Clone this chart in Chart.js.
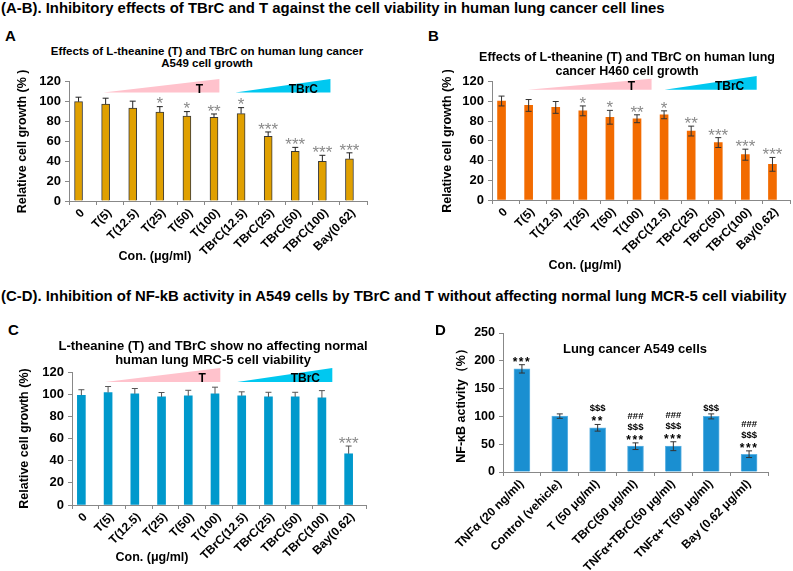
<!DOCTYPE html>
<html><head><meta charset="utf-8">
<script src="https://cdn.jsdelivr.net/npm/chart.js@4.4.0/dist/chart.umd.min.js"></script>
<style>
body{margin:0;background:#fff;width:793px;height:571px;position:relative;overflow:hidden;font-family:"Liberation Sans",Arial,sans-serif;}
.t{position:absolute;font-weight:bold;color:#000;white-space:nowrap;line-height:1;}
.c{text-align:center;transform:translateX(-50%);}
.w{position:absolute;}
</style></head><body>
<div class="w" style="left:0;top:70px"><canvas id="ca" width="395" height="210"></canvas></div>
<div class="w" style="left:400px;top:70px"><canvas id="cb" width="393" height="210"></canvas></div>
<div class="w" style="left:0;top:340px"><canvas id="cc" width="395" height="231"></canvas></div>
<div class="w" style="left:400px;top:320px"><canvas id="cd" width="393" height="251"></canvas></div>

<div class="t" style="left:1px;top:1px;font-size:14.9px">(A-B). Inhibitory effects of TBrC and T against the cell viability in human lung cancer cell lines</div>
<div class="t" style="left:1px;top:289px;font-size:14.9px">(C-D). Inhibition of NF-kB activity in A549 cells by TBrC and T without affecting normal lung MCR-5 cell viability</div>
<div class="t" style="left:5px;top:28px;font-size:15px">A</div>
<div class="t" style="left:428px;top:28px;font-size:15px">B</div>
<div class="t" style="left:8px;top:322px;font-size:15px">C</div>
<div class="t" style="left:435px;top:322px;font-size:15px">D</div>

<div class="t c" style="left:207px;top:45px;font-size:11.5px;line-height:12px">Effects of L-theanine (T) and TBrC on human lung cancer<br>A549 cell growth</div>
<div class="t c" style="left:627px;top:50px;font-size:12.5px;line-height:14px">Effects of L-theanine (T) and TBrC on human lung<br>cancer H460 cell growth</div>
<div class="t c" style="left:213px;top:339px;font-size:13px;line-height:14px">L-theanine (T) and TBrC show no affecting normal<br>human lung MRC-5 cell viability</div>
<div class="t c" style="left:635px;top:342px;font-size:13px">Lung cancer A549 cells</div>

<div class="t c" style="left:155px;top:250px;font-size:12.5px">Con. (μg/ml)</div>
<div class="t c" style="left:585px;top:259px;font-size:12.5px">Con. (μg/ml)</div>
<div class="t c" style="left:152px;top:551px;font-size:12.5px">Con. (μg/ml)</div>

<script>
// ---------- data ----------
const categories = ['0','T(5)','T(12.5)','T(25)','T(50)','T(100)','TBrC(12.5)','TBrC(25)','TBrC(50)','TBrC(100)','Bay(0.62)'];
const a549Values = [100, 97.5, 93.5, 89.5, 85.5, 84.3, 88, 65, 50, 40, 42.5];
const a549Errors = [4.5, 6, 7, 5.5, 4.5, 3.3, 6, 4.5, 4, 6, 6];
const a549Sig    = ['', '', '', '*', '*', '**', '*', '***', '***', '***', '***'];
const h460Values = [100.5, 96, 94, 90.5, 84, 82.5, 86.5, 70, 58.3, 46, 36.2];
const h460Errors = [5, 6, 6, 5, 7, 4, 4, 5, 5, 5.6, 7];
const h460Sig    = ['', '', '', '*', '*', '**', '*', '**', '***', '***', '***'];
const mrc5Values = [99, 101.5, 100.3, 97.5, 98.5, 100.3, 98.5, 97.5, 97.5, 96.6, 46.2];
const mrc5Errors = [5, 5.4, 4.8, 4, 5, 6, 3.6, 4.2, 4.2, 6.6, 7];
const mrc5Sig    = ['', '', '', '', '', '', '', '', '', '', '***'];
const nfkbCategories = ['TNFα (20 ng/ml)','Control (vehicle)','T (50 μg/ml)','TBrC(50 μg/ml)','TNFα+TBrC(50 μg/ml)','TNFα+ T(50 μg/ml)','Bay (0.62 μg/ml)'];
const nfkbValues = [185.5, 100.5, 79.5, 46.4, 46.4, 100, 32];
const nfkbErrors = [7.5, 4, 6, 6, 8, 4.5, 6];
const nfkbSig    = [['***'], [], ['$$$','**'], ['###','$$$','***'], ['###','$$$','***'], ['$$$'], ['###','$$$','***']];
const viabilityMax = 120, viabilityStep = 20;
const nfkbMax = 250, nfkbStep = 50;

const FONT = '"Liberation Sans", Arial, sans-serif';
Chart.defaults.font.family = FONT;

// ---------- annotation plugin: dose wedges, error bars, significance ----------
const annot = {
  id: 'annot',
  afterDatasetsDraw(chart, args, o) {
    const ctx = chart.ctx, xs = chart.scales.x, ys = chart.scales.y;
    const meta = chart.getDatasetMeta(0);
    ctx.save();
    (o.wedges || []).forEach(w => {
      const x0 = xs.getPixelForValue(w.from), x1 = xs.getPixelForValue(w.to);
      const yb = ys.getPixelForValue(w.base), yt = ys.getPixelForValue(w.top);
      ctx.fillStyle = w.color;
      ctx.beginPath(); ctx.moveTo(x0, yb); ctx.lineTo(x1, yb); ctx.lineTo(x1, yt); ctx.closePath(); ctx.fill();
      ctx.fillStyle = '#000'; ctx.font = 'bold 12px ' + FONT;
      ctx.textAlign = 'center'; ctx.textBaseline = 'middle';
      ctx.fillText(w.label, xs.getPixelForValue(w.labelX), ys.getPixelForValue(w.labelY));
    });
    const vals = chart.data.datasets[0].data;
    meta.data.forEach((bar, i) => {
      const v = vals[i], e = o.errors[i];
      const x = bar.x, yTop = ys.getPixelForValue(v + e), yBot = ys.getPixelForValue(v - e);
      ctx.strokeStyle = o.errColor; ctx.lineWidth = 1;
      ctx.beginPath();
      ctx.moveTo(x, o.both ? yBot : bar.y); ctx.lineTo(x, yTop);
      ctx.moveTo(x - o.cap, yTop); ctx.lineTo(x + o.cap, yTop);
      if (o.both) { ctx.moveTo(x - o.cap, yBot); ctx.lineTo(x + o.cap, yBot); }
      ctx.stroke();
      let s = o.sig[i];
      if (!s || (Array.isArray(s) && !s.length)) return;
      const lines = Array.isArray(s) ? s.slice() : [s];
      ctx.textAlign = 'center'; ctx.textBaseline = 'alphabetic';
      let c = yTop - o.sigGap;
      for (let k = lines.length - 1; k >= 0; k--) {
        const txt = lines[k];
        const star = txt.indexOf('*') >= 0;
        const fs = star ? o.starSize : o.symSize;
        ctx.font = (o.sigBold ? 'bold ' : '') + fs + 'px ' + FONT;
        ctx.fillStyle = o.sigColor;
        ctx.letterSpacing = star ? o.starSpacing : '0px';
        ctx.fillText(txt, x, c + (star ? 0.58 : 0.36) * fs);
        c -= o.lineStep;
      }
      ctx.letterSpacing = '0px';
    });
    ctx.restore();
  }
};

function viabilityChart(id, labels, values, errors, sig, color, border, opts) {
  return new Chart(document.getElementById(id), {
    type: 'bar',
    data: { labels, datasets: [
      { data: values, backgroundColor: color, borderColor: border || color, borderWidth: border ? 1 : 0, barThickness: opts.bar },
      { data: [], barThickness: opts.bar }
    ]},
    options: {
      responsive: false, animation: false,
      layout: { padding: opts.pad },
      plugins: { legend: { display: false }, tooltip: { enabled: false },
        annot: { errors, sig, both: opts.both, cap: opts.cap, errColor: opts.errColor,
          sigColor: '#8a8a8a', sigBold: false, starSize: 17, symSize: 14, starSpacing: '0px', sigGap: 7, lineStep: 11,
          wedges: opts.wedges } },
      scales: {
        x: { grid: { drawOnChartArea: false, tickLength: 4, color: '#888', offset: true }, border: { color: '#888' },
             ticks: { autoSkip: false, minRotation: 45, maxRotation: 45, color: '#000', padding: 1, font: { size: 12, weight: 'bold' } },
             afterFit: s => { s.height = opts.xH; } },
        y: { min: 0, max: viabilityMax,
             grid: { drawOnChartArea: false, tickLength: 4, color: '#888' }, border: { color: '#888' },
             ticks: { stepSize: viabilityStep, color: '#000', padding: 4, font: { size: 13, weight: 'bold' } },
             title: { display: true, text: opts.yTitle, color: '#000', padding: 0, font: { size: 12.5, weight: 'bold' } },
             afterFit: s => { s.width = opts.yW; } }
      }
    },
    plugins: [annot]
  });
}

viabilityChart('ca', categories, a549Values, a549Errors, a549Sig, '#e0a000', '#3a3a3a', {
  bar: 8, pad: { left: 15, top: 8, right: 28, bottom: 0 }, yW: 54, xH: 79, both: false, cap: 3, errColor: '#222',
  yTitle: 'Relative cell growth (% )',
  wedges: [
    { from: 0.77, to: 5.05, base: 109.3, top: 122.9, color: '#ffc2cc', label: 'T', labelX: 4.31, labelY: 112.2 },
    { from: 5.64, to: 9.15, base: 109.3, top: 122.9, color: '#00c8f0', label: 'TBrC', labelX: 8.15, labelY: 112.2 }
  ]
});
viabilityChart('cb', categories, h460Values, h460Errors, h460Sig, '#f26b00', null, {
  bar: 8, pad: { left: 40, top: 11, right: 3, bottom: 0 }, yW: 52, xH: 80, both: true, cap: 3, errColor: '#333',
  yTitle: 'Relative cell growth (% )',
  wedges: [
    { from: 0.82, to: 5.39, base: 112, top: 123, color: '#ffc2cc', label: 'T', labelX: 4.65, labelY: 115 },
    { from: 5.87, to: 9.27, base: 112, top: 126, color: '#00c8f0', label: 'TBrC', labelX: 8.27, labelY: 115 }
  ]
});
viabilityChart('cc', categories, mrc5Values, mrc5Errors, mrc5Sig, '#0099cc', null, {
  bar: 8, pad: { left: 17, top: 32, right: 29, bottom: 0 }, yW: 55, xH: 66, both: false, cap: 3, errColor: '#555',
  yTitle: 'Relative cell growth (%)',
  wedges: [
    { from: 0.74, to: 5.05, base: 111, top: 123.6, color: '#ffc2cc', label: 'T', labelX: 4.37, labelY: 113.7 },
    { from: 5.68, to: 9.24, base: 111, top: 123.6, color: '#00c8f0', label: 'TBrC', labelX: 8.23, labelY: 113.7 }
  ]
});

new Chart(document.getElementById('cd'), {
  type: 'bar',
  data: { labels: nfkbCategories, datasets: [
    { data: nfkbValues, backgroundColor: '#1a8fd1', borderColor: '#5fb3e3', borderWidth: 1, barThickness: 16 }
  ]},
  options: {
    responsive: false, animation: false,
    layout: { padding: { left: 54, top: 13, right: 25, bottom: 0 } },
    plugins: { legend: { display: false }, tooltip: { enabled: false },
      annot: { errors: nfkbErrors, sig: nfkbSig, both: true, cap: 3, errColor: '#333',
        sigColor: '#000', sigBold: true, starSize: 12, symSize: 9.5, starSpacing: '1.5px', sigGap: 6, lineStep: 10.6 } },
    scales: {
      x: { grid: { drawOnChartArea: false, tickLength: 4, color: '#888', offset: true }, border: { color: '#888' },
           ticks: { autoSkip: false, minRotation: 45, maxRotation: 45, color: '#000', padding: 1, font: { size: 12, weight: 'bold' } },
           afterFit: s => { s.height = 99; } },
      y: { min: 0, max: nfkbMax,
           grid: { drawOnChartArea: false, tickLength: 4, color: '#888' }, border: { color: '#888' },
           ticks: { stepSize: nfkbStep, color: '#000', padding: 4, font: { size: 12.5, weight: 'bold' } },
           title: { display: true, text: 'NF-κB activity（%）', color: '#000', padding: 0, font: { size: 12.5, weight: 'bold' } },
           afterFit: s => { s.width = 49; } }
    }
  },
  plugins: [annot]
});
</script>
</body></html>
